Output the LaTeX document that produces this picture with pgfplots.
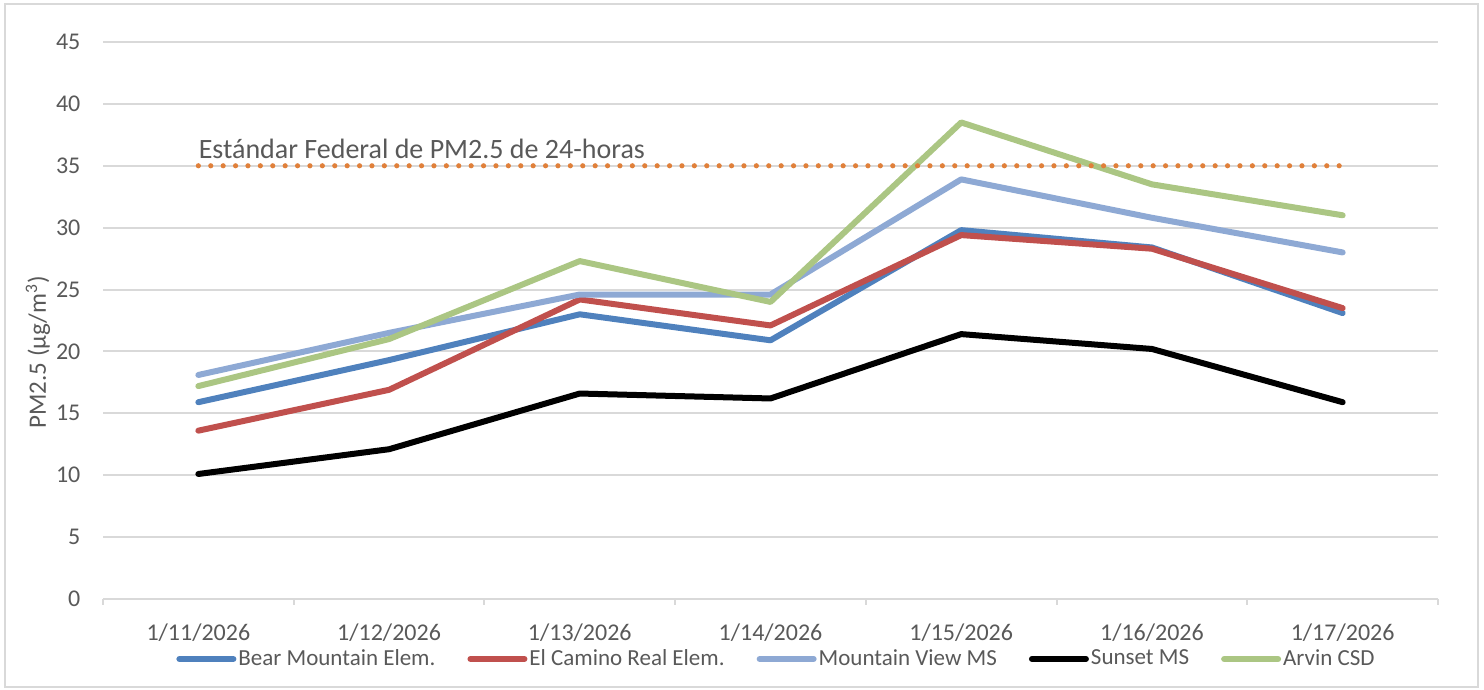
\documentclass[border=0pt]{standalone}
\usepackage{pgfplots}
\pgfplotsset{compat=1.18}
\usepackage{fontspec}
\setmainfont{Carlito}
\definecolor{txt}{HTML}{595959}
\definecolor{gridc}{HTML}{D9D9D9}
\definecolor{cBear}{HTML}{4F81BD}
\definecolor{cCam}{HTML}{C0504D}
\definecolor{cMV}{HTML}{8EA9D4}
\definecolor{cSun}{HTML}{000000}
\definecolor{cArv}{HTML}{ABC683}
\definecolor{cStd}{HTML}{E0803A}
\begin{document}
\begin{tikzpicture}
\path[use as bounding box] (-51.5pt,-45.5pt) rectangle (690.5pt,299.5pt);
\draw[gridc, line width=1pt] (-49pt,-44pt) rectangle (687.5pt,297.25pt);
\begin{axis}[
  at={(0pt,0pt)}, anchor=south west,
  scale only axis, width=667.5pt, height=278.5pt,
  xmin=-0.5, xmax=6.5, ymin=0, ymax=45,
  axis x line*=bottom, axis y line*=left,
  x axis line style={gridc, line width=1pt, -},
  y axis line style={draw=none},
  xtick={0,...,6},
  xticklabels={1/11/2026,1/12/2026,1/13/2026,1/14/2026,1/15/2026,1/16/2026,1/17/2026},
  major x tick style={draw=none},
  minor xtick={-0.5,0.5,1.5,2.5,3.5,4.5,5.5,6.5},
  minor x tick style={gridc, line width=1pt},
  minor tick length=3pt,
  tick align=outside,
  ytick={0,5,...,45},
  ytick style={draw=none},
  ymajorgrids, grid style={gridc, line width=1pt},
  tick label style={font=\fontsize{12}{14}\selectfont, text=txt},
  /pgf/number format/assume math mode=true,
  yticklabel style={xshift=-3.5pt},
  xticklabel style={yshift=-4.5pt},
  ylabel={PM2.5 (µg/m\textsuperscript{3})},
  ylabel style={at={(axis description cs:0,0.443)}, anchor=center, yshift=32.5pt, font=\fontsize{12.5}{14}\selectfont, text=txt},
  clip=false,
  legend columns=5,
  legend style={at={(axis description cs:0.5,0)}, anchor=center, xshift=3pt, yshift=-30pt, draw=none, fill=none,
    font=\fontsize{11.5}{14}\selectfont, text=txt,
    nodes={inner xsep=1pt},
    /tikz/every odd column/.append style={column sep=0pt},
    /tikz/every even column/.append style={column sep=15pt}},
  legend cell align=left,
  legend image code/.code={\draw[#1, line cap=round] (0pt,0pt) -- (27pt,0pt);},
  every axis plot/.append style={line width=3pt, line join=round, line cap=round},
]
\addplot[cBear] coordinates {(0,15.9) (1,19.3) (2,23.0) (3,20.9) (4,29.8) (5,28.4) (6,23.1)};
\addlegendentry{Bear Mountain Elem.}
\addplot[cCam] coordinates {(0,13.6) (1,16.9) (2,24.2) (3,22.1) (4,29.4) (5,28.3) (6,23.5)};
\addlegendentry{El Camino Real Elem.}
\addplot[cMV] coordinates {(0,18.1) (1,21.5) (2,24.6) (3,24.6) (4,33.9) (5,30.8) (6,28.0)};
\addlegendentry{Mountain View MS}
\addplot[cSun] coordinates {(0,10.1) (1,12.1) (2,16.6) (3,16.2) (4,21.4) (5,20.2) (6,15.9)};
\addlegendentry{Sunset MS}
\addplot[cArv] coordinates {(0,17.2) (1,21.0) (2,27.3) (3,24.0) (4,38.5) (5,33.5) (6,31.0)};
\addlegendentry{Arvin CSD}
\addplot[cStd, forget plot, line width=2.6pt, line cap=round, dash pattern=on 0pt off 6.2pt] coordinates {(0,35) (6,35)};
\node[anchor=base west, inner xsep=0pt, yshift=3.5pt, font=\fontsize{14}{16}\selectfont, text=txt] at (axis cs:0,35) {Estándar Federal de PM2.5 de 24-horas};
\end{axis}
\end{tikzpicture}
\end{document}
